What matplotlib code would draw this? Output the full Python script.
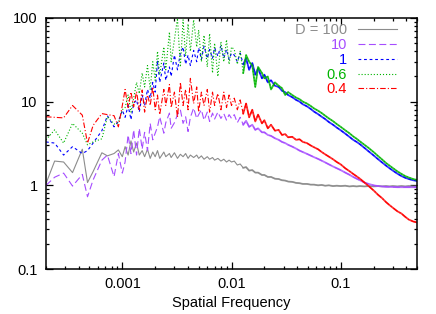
import matplotlib
matplotlib.use("Agg")
import matplotlib.pyplot as plt
from matplotlib.ticker import NullFormatter

plt.rcParams['font.family'] = ['Liberation Sans', 'DejaVu Sans']
plt.rcParams['lines.scale_dashes'] = False

# spatial frequency grid
freq = [0.0002, 0.00024, 0.00029, 0.00035, 0.00043, 0.00048, 0.00054, 0.00065, 0.00073, 0.00084, 0.00092, 0.001,
        0.00106, 0.00113, 0.0012, 0.00127, 0.00135, 0.00143, 0.00152, 0.0016, 0.0017, 0.0018,
        0.0019, 0.002, 0.0021, 0.0022, 0.0024, 0.0025, 0.0027, 0.0028, 0.003, 0.0032,
        0.0034, 0.0036, 0.0038, 0.004, 0.0042, 0.0045, 0.0048, 0.005, 0.0053, 0.0056,
        0.006, 0.0063, 0.0067, 0.007, 0.0075, 0.008, 0.0085, 0.009, 0.0095, 0.01,
        0.0106, 0.0113, 0.012, 0.0128, 0.0136, 0.0145, 0.0155, 0.0165, 0.0175, 0.019,
        0.02, 0.0215, 0.023, 0.025, 0.027, 0.029, 0.031, 0.033, 0.036, 0.039,
        0.042, 0.045, 0.049, 0.053, 0.057, 0.062, 0.067, 0.072, 0.078, 0.085,
        0.092, 0.1, 0.11, 0.12, 0.13, 0.14, 0.15, 0.165, 0.18, 0.2,
        0.22, 0.24, 0.26, 0.28, 0.3, 0.33, 0.36, 0.39, 0.42, 0.46, 0.5]

d100 = [1.05, 1.95, 1.9, 1.42, 2.7, 1.08, 1.46, 2.45, 2.25, 2.4, 2.65, 2.2,
        2.9, 2.3, 3.4, 2.5, 3.2, 2.3, 2.6, 2.2, 2.7, 2.1,
        2.5, 2.2, 2.6, 2.1, 2.5, 2.2, 2.4, 2.15, 2.45, 2.1,
        2.35, 2.2, 2.4, 2.1, 2.3, 2.15, 2.3, 2.1, 2.25, 2.05,
        2.2, 2.05, 2.15, 2.0, 2.1, 1.95, 2.05, 1.9, 2.0, 1.9,
        1.95, 1.75, 1.8, 1.62, 1.65, 1.5, 1.52, 1.42, 1.42, 1.33,
        1.33, 1.26, 1.26, 1.2, 1.19, 1.15, 1.14, 1.11, 1.1, 1.07,
        1.06, 1.04, 1.04, 1.02, 1.02, 1.0, 1.01, 0.99, 1.0, 0.98,
        0.99, 0.98, 0.99, 0.97, 0.98, 0.97, 0.98, 0.97, 0.98, 0.97,
        0.98, 0.97, 0.98, 0.97, 0.98, 0.97, 0.98, 0.97, 0.98, 0.97, 0.97]

d10 = [1.0, 1.25, 1.4, 0.98, 1.35, 0.73, 1.16, 2.0, 2.3, 1.27, 2.4, 1.4,
       1.9, 4.0, 2.4, 4.6, 2.3, 4.8, 2.7, 4.3, 2.6, 5.5,
       3.5, 4.2, 5.0, 6.6, 4.2, 5.6, 7.3, 4.8, 5.6, 7.0,
       8.0, 5.5, 6.6, 4.4, 6.5, 8.4, 6.3, 7.0, 8.0, 6.0,
       7.5, 5.8, 7.3, 6.2, 7.5, 6.3, 7.2, 6.0, 7.0, 6.3,
       7.0, 5.6, 6.5, 5.3, 5.9, 5.0, 5.3, 4.6, 4.8, 4.3,
       4.3, 4.0, 3.9, 3.65, 3.5, 3.3, 3.2, 3.05, 2.9, 2.75,
       2.6, 2.5, 2.38, 2.27, 2.17, 2.07, 1.97, 1.88, 1.78, 1.68,
       1.6, 1.52, 1.42, 1.34, 1.26, 1.2, 1.15, 1.08, 1.04, 1.0,
       0.98, 0.97, 0.96, 0.96, 0.955, 0.95, 0.95, 0.95, 0.95, 0.95, 0.95]

d1 = [3.3, 3.2, 2.3, 2.9, 2.4, 2.6, 3.2, 4.5, 6.8, 5.0, 5.8, 7.9,
      6.5, 9.0, 6.1, 9.5, 10.5, 7.5, 12, 9, 14, 11,
      17, 13, 31, 17, 29, 18, 26, 20, 36, 24,
      38, 45, 28, 36, 27, 41, 30, 44, 32, 46,
      33, 42, 33, 44, 35, 47, 33, 42, 32, 38,
      36, 30, 38, 28, 33, 24, 29, 21, 25, 19,
      21, 17, 18, 15.5, 15, 13.5, 13, 12, 11.3, 10.5,
      10, 9.3, 8.8, 8.2, 7.6, 7.1, 6.6, 6.2, 5.7, 5.3,
      4.9, 4.55, 4.15, 3.8, 3.5, 3.3, 3.1, 2.8, 2.55, 2.28,
      2.05, 1.87, 1.72, 1.6, 1.5, 1.38, 1.29, 1.23, 1.19, 1.15, 1.13]

d06 = [3.5, 4.6, 3.2, 5.5, 4.2, 3.05, 3.3, 3.6, 6.6, 5.4, 5.6, 8,
       8.5, 12, 7.5, 11, 17, 12.5, 22, 15, 27, 14,
       30, 18, 40, 21, 45, 24, 68, 30, 55, 99,
       26, 95, 35, 85, 40, 95, 45, 72, 30, 62,
       26, 65, 22, 50, 20, 52, 30, 55, 28, 45,
       42, 28, 40, 22, 36, 30, 27, 15, 26, 22,
       19, 20, 14, 17, 15.5, 14.5, 12, 13, 12, 11.2,
       10.7, 10, 9.5, 8.9, 8.3, 7.8, 7.3, 6.8, 6.3, 5.85,
       5.4, 5.0, 4.55, 4.2, 3.85, 3.6, 3.35, 3.05, 2.8, 2.5,
       2.24, 2.03, 1.85, 1.72, 1.61, 1.47, 1.37, 1.29, 1.24, 1.19, 1.16]

d04 = [6.6, 6.5, 6.4, 9.0, 6.9, 3.2, 5.2, 7.2, 7.0, 6.8, 5.0, 9,
       14, 8.5, 13, 8.7, 13.2, 8, 13.8, 7.5, 12, 9,
       15, 8, 12, 7, 14, 9, 16, 8.5, 13, 6.5,
       17, 9, 14, 8, 19, 9.5, 15, 7.5, 13, 9,
       14, 7.5, 13, 9, 12.5, 8, 13, 8.5, 12, 9,
       11, 8, 10.5, 7.2, 9.5, 6.5, 8, 5.8, 7, 5.5,
       6.0, 4.8, 5.3, 4.5, 4.6, 4.0, 4.1, 3.75, 3.8, 3.5,
       3.55, 3.3, 3.2, 3.0, 2.85, 2.7, 2.5, 2.35, 2.2, 2.05,
       1.9, 1.78, 1.6, 1.48, 1.37, 1.28, 1.2, 1.08, 0.98, 0.87,
       0.77, 0.7, 0.63, 0.58, 0.54, 0.49, 0.46, 0.42, 0.39, 0.37, 0.36]

labels = ['D = 100', '10', '1', '0.6', '0.4']
colors = ['#8c8c8c', '#a64dff', '#0000ff', '#00b400', '#ff0000']
dashes = [None, (5, 2.5), (2, 2), (0.8, 1.4), (4, 1.5, 0.8, 1.5)]
series = [d100, d10, d1, d06, d04]

fig = plt.figure(figsize=(4.36, 3.14), dpi=100)
ax = fig.add_axes([0.1055, 0.1433, 0.851, 0.7994])

# at high frequency the measured spectra are so dense they read as solid bands
k0 = freq.index(0.0128)
for vals, lab, col, ds in zip(series, labels, colors, dashes):
    line, = ax.plot(freq, vals, color=col, lw=0.8, label=lab)
    if ds is not None:
        line.set_dashes(ds)
    ax.plot(freq[k0:], vals[k0:], color=col, lw=1.3, alpha=0.8)

ax.set_xscale('log')
ax.set_yscale('log')
ax.set_xlim(0.0002, 0.5)
ax.set_ylim(0.1, 100)
ax.set_xticks([0.001, 0.01, 0.1])
ax.set_xticklabels(['0.001', '0.01', '0.1'])
ax.set_yticks([0.1, 1, 10, 100])
ax.set_yticklabels(['0.1', '1', '10', '100'])
ax.xaxis.set_minor_formatter(NullFormatter())
ax.yaxis.set_minor_formatter(NullFormatter())
ax.tick_params(which='both', direction='in', top=True, right=True, labelsize=10.5, width=0.9)
ax.tick_params(which='major', length=5, pad=6)
ax.tick_params(which='minor', length=2.5)
for sp in ax.spines.values():
    sp.set_linewidth(1.1)

ax.set_xlabel('Spatial Frequency', fontsize=10.5, labelpad=3)

leg = ax.legend(loc='upper right', bbox_to_anchor=(0.955, 0.99), frameon=False,
                markerfirst=False, fontsize=10.5, labelcolor='linecolor',
                handlelength=2.7, handletextpad=0.75, labelspacing=0.05,
                borderaxespad=0.0, borderpad=0.2)

fig.savefig('out.png', dpi=100)
